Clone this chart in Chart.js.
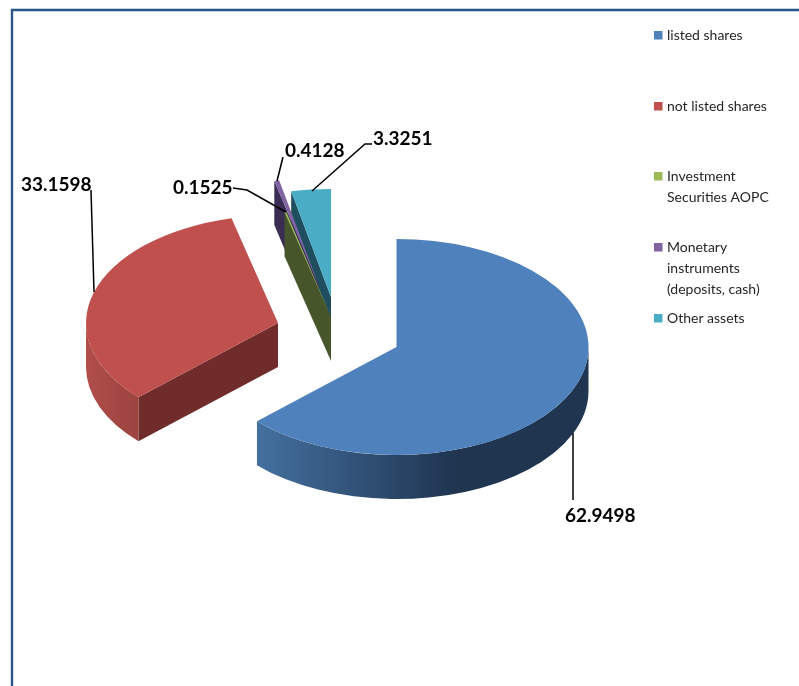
<!DOCTYPE html>
<html>
<head>
<meta charset="utf-8">
<style>
  html,body{margin:0;padding:0;background:#fff;}
  canvas{display:block;}
</style>
<script src="https://cdn.jsdelivr.net/npm/chart.js@4/dist/chart.umd.min.js"></script>
</head>
<body>
<canvas id="pie" width="799" height="686"></canvas>
<script>
const categories=['listed shares','not listed shares','Investment Securities AOPC','Monetary instruments (deposits, cash)','Other assets'];
const shareValues=[62.9498,33.1598,0.1525,0.4128,3.3251];
const legendLines=[['listed shares'],['not listed shares'],['Investment','Securities AOPC'],['Monetary','instruments','(deposits, cash)'],['Other assets']];

const topColors=['#4f81bd','#c0504d','#9bbb59','#8064a2','#4bacc6'];
const cutColors=['#2a4a70','#702c2a','#46552a','#3b2c54','#1f4f5f'];
// how far each slice is pulled out of the pie, px on screen
const explode=[[58.5,14],[-60,-10],[-7,-16],[-19,-47],[-7,-36]];
const squash=0.5625, depth=44;
// slices painted back to front
const paintOrder=[4,3,2,1,0];

const legendRows=[35,106,176,247,318];
const leaders=[
  {pts:[[573,433],[573,500]],x:565,y:516},
  {pts:[[91,190],[94,292]],x:21,y:185},
  {pts:[[233,188],[247,190],[286,212]],x:173,y:188},
  {pts:[[283,157],[277,181]],x:285,y:151},
  {pts:[[372,144],[365,144],[312,191]],x:373,y:139}
];

function wallFill(ctx,i){
  const g=ctx.createLinearGradient(257,0,455,0);
  if(i===0){
    g.addColorStop(0,'#44709f');
    g.addColorStop(1,'#1f3550');
  }else{
    const r=ctx.createLinearGradient(87,0,138,0);
    r.addColorStop(0,'#b04e4b');
    r.addColorStop(1,'#9c4340');
    return r;
  }
  return g;
}

const pie3d={
  id:'pie3d',
  beforeDraw(chart){
    const ctx=chart.ctx;
    ctx.save();
    ctx.strokeStyle='#2a5587';
    ctx.lineWidth=2.4;
    ctx.beginPath();
    ctx.moveTo(12,686);
    ctx.lineTo(12,10);
    ctx.lineTo(799,10);
    ctx.stroke();
    ctx.restore();
  },
  beforeDatasetsDraw(chart){
    const ctx=chart.ctx, arcs=chart.getDatasetMeta(0).data;
    paintOrder.forEach(i=>{
      const arc=arcs[i];
      const X=arc.x+explode[i][0], Y=arc.y+explode[i][1], R=arc.outerRadius;
      const px=a=>X+R*Math.cos(a), py=a=>Y+R*squash*Math.sin(a);
      const a0=arc.startAngle, a1=arc.endAngle;

      // cut face below the leading edge
      if(Math.cos(a0)<-0.001){
        ctx.fillStyle=cutColors[i];
        ctx.beginPath();
        ctx.moveTo(X,Y);
        ctx.lineTo(px(a0),py(a0));
        ctx.lineTo(px(a0),py(a0)+depth);
        ctx.lineTo(X,Y+depth);
        ctx.closePath();
        ctx.fill();
      }
      // rim, only the front half of the ellipse shows
      const from=Math.max(a0,0), to=Math.min(a1,Math.PI);
      if(to>from){
        ctx.fillStyle=wallFill(ctx,i);
        ctx.beginPath();
        ctx.ellipse(X,Y,R,R*squash,0,from,to);
        ctx.ellipse(X,Y+depth,R,R*squash,0,to,from,true);
        ctx.closePath();
        ctx.fill();
      }
      // top face is the chart's own arc, squashed
      ctx.save();
      ctx.translate(X,Y);
      ctx.scale(1,squash);
      ctx.translate(-arc.x,-arc.y);
      arc.draw(ctx);
      ctx.restore();
    });
    return false;
  },
  afterDraw(chart){
    const ctx=chart.ctx;
    ctx.save();
    ctx.strokeStyle='#000';
    ctx.lineWidth=1.5;
    ctx.fillStyle='#000';
    ctx.font='bold 19px Lato';
    ctx.textBaseline='middle';
    ctx.textAlign='left';
    leaders.forEach((l,i)=>{
      ctx.beginPath();
      l.pts.forEach((p,k)=>k?ctx.lineTo(p[0],p[1]):ctx.moveTo(p[0],p[1]));
      ctx.stroke();
      ctx.fillText(String(shareValues[i]),l.x,l.y);
    });

    ctx.font='14px Lato';
    legendLines.forEach((lines,i)=>{
      ctx.fillStyle=topColors[i];
      ctx.fillRect(654,legendRows[i]-4,8.5,8.5);
      ctx.fillStyle='#262626';
      lines.forEach((t,k)=>ctx.fillText(t,667,legendRows[i]+k*21));
    });
    ctx.restore();
  }
};

new Chart(document.getElementById('pie'),{
  type:'pie',
  data:{
    labels:categories,
    datasets:[{data:shareValues,backgroundColor:topColors,borderWidth:0,radius:192}]
  },
  options:{
    responsive:false,
    animation:false,
    layout:{padding:{right:123,bottom:20}},
    plugins:{legend:{display:false},tooltip:{enabled:false}}
  },
  plugins:[pie3d]
});
</script>
</body>
</html>
